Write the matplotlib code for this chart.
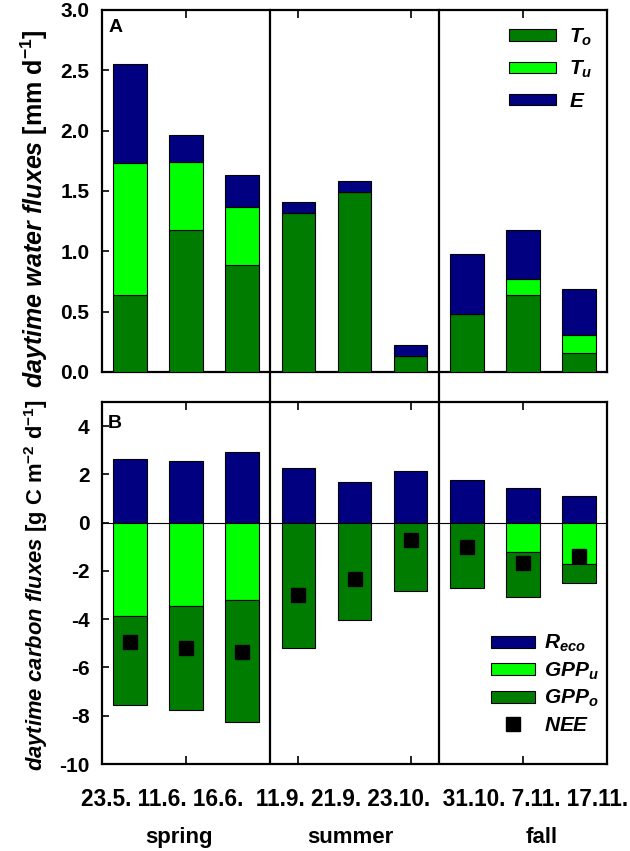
import numpy as np
import matplotlib
matplotlib.use("Agg")
import matplotlib.pyplot as plt
import matplotlib.transforms as mtransforms

plt.rcParams['font.family'] = ['Liberation Sans', 'DejaVu Sans']
plt.rcParams['font.weight'] = 'bold'
plt.rcParams['mathtext.fontset'] = 'custom'
plt.rcParams['mathtext.rm'] = 'Liberation Sans:bold'
plt.rcParams['mathtext.it'] = 'Liberation Sans:italic:bold'
plt.rcParams['mathtext.bf'] = 'Liberation Sans:bold'
plt.rcParams['axes.unicode_minus'] = False

# data
dates = ['23.5.', '11.6.', '16.6.', '11.9.', '21.9.', '23.10.', '31.10.', '7.11.', '17.11.']
seasons = ['spring', 'summer', 'fall']
season_groups = [3, 3, 3]

T_o = np.array([0.64, 1.18, 0.89, 1.32, 1.49, 0.13, 0.48, 0.64, 0.16])
T_u = np.array([1.09, 0.56, 0.48, 0.0, 0.0, 0.0, 0.0, 0.13, 0.15])
E = np.array([0.82, 0.22, 0.26, 0.09, 0.09, 0.09, 0.50, 0.41, 0.38])

R_eco = np.array([2.64, 2.57, 2.92, 2.25, 1.69, 2.16, 1.76, 1.42, 1.12])
GPP_u = np.array([-3.85, -3.47, -3.22, 0.0, 0.0, 0.0, 0.0, -1.22, -1.70])
GPP_o = np.array([-3.70, -4.29, -5.05, -5.20, -4.02, -2.85, -2.72, -1.84, -0.78])
NEE = np.array([-4.95, -5.20, -5.37, -2.99, -2.35, -0.73, -1.01, -1.66, -1.38])

dark = '#007d00'
light = '#00ff00'
navy = '#000080'

x = np.arange(1, len(dates) + 1)
w = 0.6

fig = plt.figure(figsize=(6.3, 8.51), dpi=100)
ax1 = fig.add_axes([0.1619, 0.5629, 0.8016, 0.4254])
ax2 = fig.add_axes([0.1619, 0.1022, 0.8016, 0.4254])

bar_kw = dict(width=w, edgecolor='black', linewidth=0.8, zorder=3)

# panel A
ax1.bar(x, T_o, color=dark, label=r'$T_o$', **bar_kw)
ax1.bar(x, T_u, bottom=T_o, color=light, label=r'$T_u$', **bar_kw)
ax1.bar(x, E, bottom=T_o + T_u, color=navy, label=r'$E$', **bar_kw)

# panel B
b_r = ax2.bar(x, R_eco, color=navy, **bar_kw)
b_u = ax2.bar(x, GPP_u, color=light, **bar_kw)
b_o = ax2.bar(x, GPP_o, bottom=GPP_u, color=dark, **bar_kw)
p_nee, = ax2.plot(x, NEE, 's', color='black', markersize=9.5, linestyle='none', zorder=5)
ax2.axhline(0, color='black', linewidth=0.8, zorder=2)

ax1.set_ylim(0, 3.0)
ax1.set_yticks(np.arange(0, 3.01, 0.5))
ax1.set_yticklabels([f'{v:.1f}' for v in np.arange(0, 3.01, 0.5)])
ax2.set_ylim(-10, 5)
ax2.set_yticks(np.arange(-10, 5, 2))

for ax in (ax1, ax2):
    ax.set_xlim(0.5, 9.5)
    ax.set_xticks([2, 4, 6, 8])
    ax.set_xticklabels([])
    for s in ax.spines.values():
        s.set_linewidth(1.6)
    ax.tick_params(axis='y', direction='in', length=5, width=1.2, labelsize=15, pad=9)
    ax.tick_params(axis='x', direction='in', length=6, width=1.2, top=True)
    # season dividers
    for xd in np.cumsum(season_groups)[:-1] + 0.5:
        if ax is ax1:
            ax.axvline(xd, ymin=-0.1, ymax=1.0, color='black', linewidth=1.6, clip_on=False, zorder=4)
        else:
            ax.axvline(xd, color='black', linewidth=1.6, zorder=4)

ax1.tick_params(axis='x', bottom=False)

ax1.text(0.012, 0.975, 'A', transform=ax1.transAxes, fontsize=14, fontweight='bold', va='top', ha='left')
ax2.text(0.012, 0.965, 'B', transform=ax2.transAxes, fontsize=14, fontweight='bold', va='top', ha='left')

ax1.set_ylabel(r'$daytime\ water\ fluxes$ [mm d$^{-1}$]', fontsize=18, fontweight='bold')
ax2.set_ylabel(r'$daytime\ carbon\ fluxes$ [g C m$^{-2}$ d$^{-1}$]', fontsize=15.8, fontweight='bold')
ax1.yaxis.set_label_coords(-0.103, 0.45)
ax2.yaxis.set_label_coords(-0.103, 0.495)

# date labels and season names under panel B
trans = mtransforms.blended_transform_factory(ax2.transData, ax2.transAxes)
groups = []
i = 0
for n in season_groups:
    groups.append(' '.join(dates[i:i + n]))
    i += n
ax2.text(5.0, -0.097, '  '.join(groups), transform=trans, fontsize=16.3, fontweight='bold',
         ha='center', va='center')
season_x = [1.88, 4.92, 8.33]
for sx, name in zip(season_x, seasons):
    ax2.text(sx, -0.202, name, transform=trans, fontsize=16, fontweight='bold', ha='center', va='center')

leg_kw = dict(frameon=False, fontsize=15, borderpad=0, borderaxespad=0, loc='upper left')
ax1.legend(bbox_to_anchor=(0.806, 0.955), handlelength=2.25, handleheight=0.48,
           handletextpad=0.65, labelspacing=0.55, **leg_kw)
ax2.legend([b_r, b_u, b_o, p_nee], [r'$R_{eco}$', r'$GPP_u$', r'$GPP_o$', r'$NEE$'],
           bbox_to_anchor=(0.770, 0.362), handlelength=2.1, handleheight=0.52,
           handletextpad=0.45, labelspacing=0.3, **leg_kw)

fig.savefig('out.png', dpi=100)
